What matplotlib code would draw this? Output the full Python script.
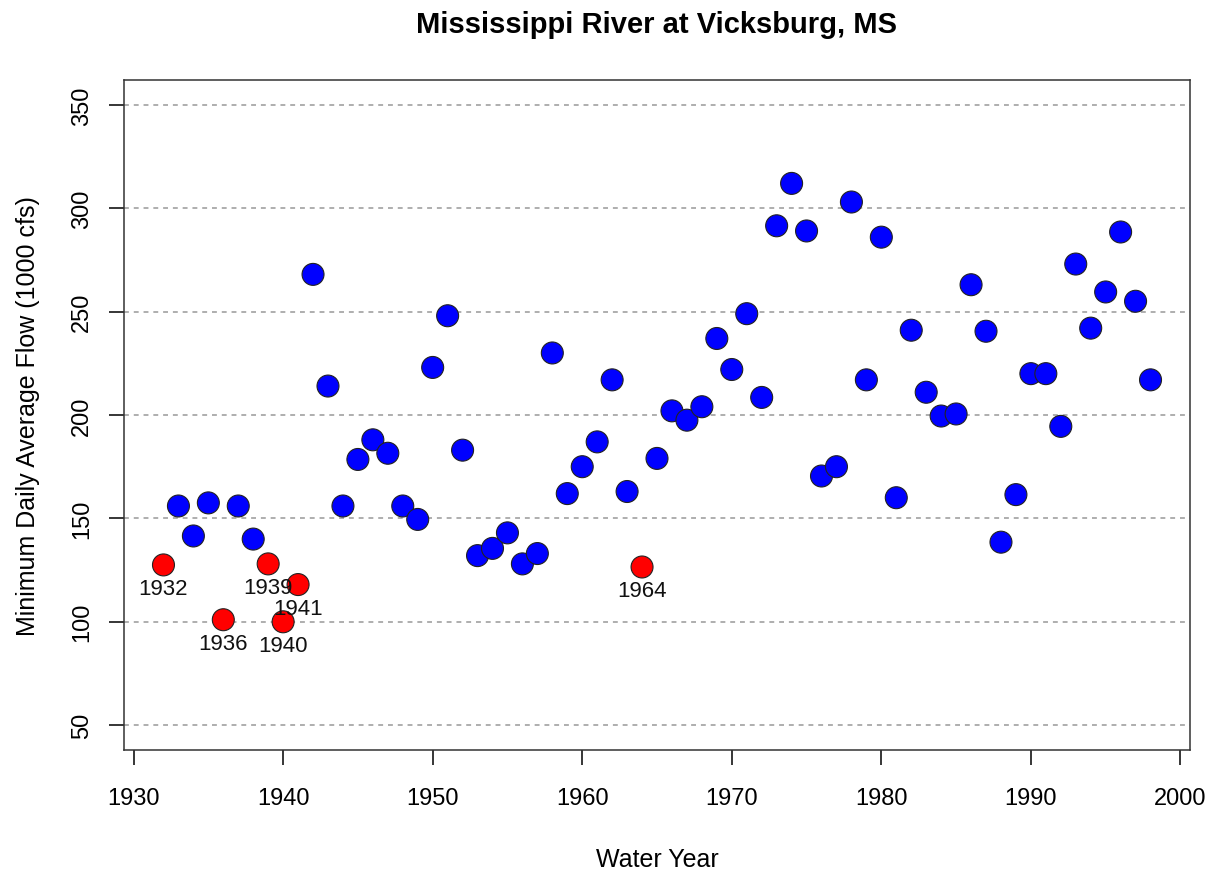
import matplotlib
matplotlib.use("Agg")
import matplotlib.pyplot as plt

plt.rcParams['font.family'] = ['Liberation Sans', 'DejaVu Sans']

years = list(range(1932, 1999))
flow = [127.5, 156, 141.5, 157.5, 101, 156, 140, 128, 100, 118,
        268, 214, 156, 178.5, 188, 181.5, 156, 149.5, 223, 248,
        183, 132, 135.5, 143, 128, 133, 230, 162, 175, 187,
        217, 163, 126.5, 179, 202, 197.5, 204, 237, 222, 249,
        208.5, 291.5, 312, 289, 170.5, 175, 303, 217, 286, 160,
        241, 211, 199.5, 200.5, 263, 240.5, 138.5, 161.5, 220, 220,
        194.5, 273, 242, 259.5, 288.5, 255, 217]
low_years = [1932, 1936, 1939, 1940, 1941, 1964]

fig = plt.figure(figsize=(12.15, 8.7), dpi=100)
ax = fig.add_axes([124 / 1215, 119 / 870, 1066 / 1215, 670 / 870])

colors = ['red' if y in low_years else 'blue' for y in years]
for v in [50, 100, 150, 200, 250, 300, 350]:
    ax.axhline(v, color='#999999', linestyle=(0, (3.2, 3.2)), linewidth=1.1, zorder=1)
ax.scatter(years, flow, s=250, c=colors, edgecolors='#222222', linewidths=0.8, zorder=3)

# labels under the low-flow years
for y, f in zip(years, flow):
    if y in low_years:
        ax.annotate(str(y), (y, f), xytext=(0, -17), textcoords='offset points',
                    ha='center', va='center', fontsize=16, color='#111111', zorder=4)

ax.set_xlim(1929.36, 2000.64)
ax.set_ylim(38, 362)
ax.set_xticks(range(1930, 2001, 10))
ax.set_yticks(range(50, 351, 50))
ax.tick_params(axis='both', direction='out', length=10.8, width=1.1, labelsize=17)
ax.tick_params(axis='x', pad=16)
ax.tick_params(axis='y', pad=11.5)
for lab in ax.get_yticklabels():
    lab.set_rotation(90)
    lab.set_va('center')
for s in ax.spines.values():
    s.set_linewidth(1.1)
    s.set_color('#333333')

fig.text(657 / 1215, 1 - 867 / 870, 'Water Year', ha='center', va='baseline', fontsize=18)
fig.text(40 / 1215, 1 - 416 / 870, 'Minimum Daily Average Flow (1000 cfs)',
         rotation=90, ha='right', va='center', fontsize=18)
fig.text(656 / 1215, 1 - 33 / 870, 'Mississippi River at Vicksburg, MS',
         ha='center', va='baseline', fontsize=21, fontweight='bold')

fig.savefig('out.png', dpi=100)
